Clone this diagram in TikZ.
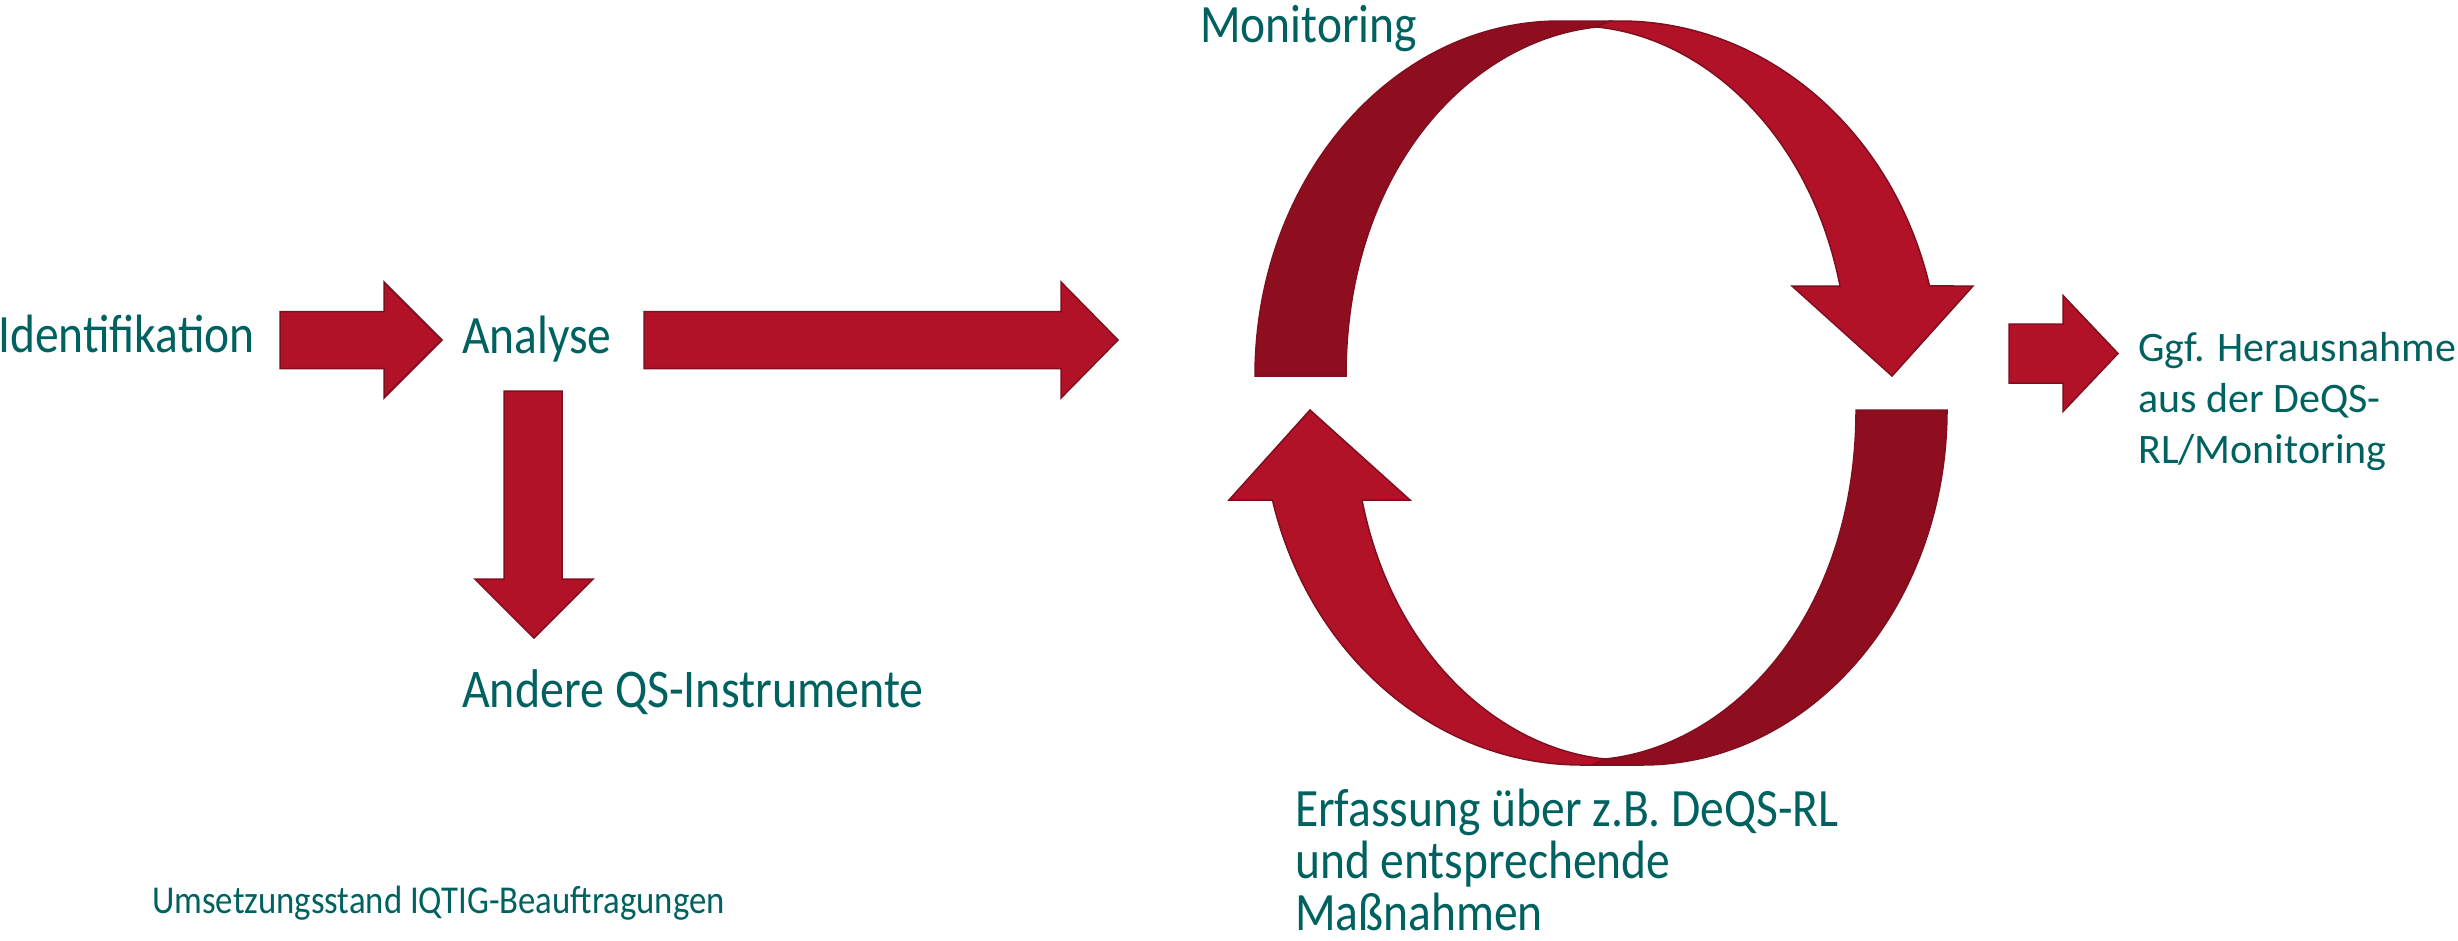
\documentclass[tikz,border=0pt]{standalone}
\usepackage{fontspec}
\setmainfont{Carlito}
\newfontfamily\condfont[FakeStretch=0.88]{Carlito}
\usepackage{tikz}
\definecolor{qsred}{RGB}{177,18,40}
\definecolor{qsdark}{RGB}{142,14,32}
\definecolor{qsedge}{RGB}{128,14,30}
\definecolor{qsteal}{RGB}{0,98,96}
% right block arrow: (shaft left, centre)(head base, tip)(shaft half, head half)
\def\rightarrowblock(#1,#2)(#3,#4)(#5,#6){\draw[blockarrow] (#1,#2-#5) -- (#3,#2-#5) -- (#3,#2-#6) -- (#4,#2) -- (#3,#2+#6) -- (#3,#2+#5) -- (#1,#2+#5) -- cycle;}
% half-turn ribbon with head, dark back part on the left
\def\ribbonarrow{
	\draw[backband] (1255,376) arc[start angle=180, end angle=270, x radius=305, y radius=355] -- (1610,21) -- (1597,27) .. controls (1470,40) and (1346,170) .. (1346,376) -- cycle;
	\draw[blockarrow] (1597,27) -- (1610,21) -- (1620,21) arc[start angle=270, end angle=345.31, x radius=320, y radius=355] -- (1973,286) -- (1892,376) -- (1792,286) -- (1840,286) .. controls (1810,133) and (1704,38) .. (1597,27) -- cycle;
}
\tikzset{
  blockarrow/.style={fill=qsred, draw=qsedge, line width=1.5pt, line join=miter},
  backband/.style={fill=qsdark, draw=qsedge, line width=1.5pt},
  bigtext/.style={text=qsteal, inner sep=0pt, anchor=base west, font=\condfont\fontsize{54}{52}\selectfont, align=left},
  widetext/.style={text=qsteal, inner sep=0pt, anchor=base west, font=\fontsize{42}{51}\selectfont, align=left}
}

\begin{document}
\begin{tikzpicture}[x=1pt, y=-1pt]
		%%%%% START %%%%%
		\useasboundingbox (0,0) rectangle (2458,940);
		
		\node[bigtext] (ident) at (-2, 352) {Identifikation};
		\node[bigtext] (analyse) at (462, 353) {Analyse};
		\node[bigtext] (monitor) at (1200, 42) {Monitoring};
		\node[bigtext, font=\condfont\fontsize{54.5}{52}\selectfont] (andere) at (462, 707) {Andere QS-Instrumente};
		% base of a multi-line node is its last line
		\node[bigtext] (erfass) at (1295, 930) {Erfassung über z.B. DeQS-RL\\und entsprechende\\Maßnahmen};
		\node[widetext] (heraus) at (2138, 463) {Ggf. Herausnahme\\aus der DeQS-\\RL/Monitoring};
		\node[bigtext, font=\condfont\fontsize{39.5}{40}\selectfont] (stand) at (152, 913) {Umsetzungsstand IQTIG-Beauftragungen};
		
		\rightarrowblock(280,340)(384,442)(28.5,58)
		\rightarrowblock(644,340)(1061,1118)(28.5,58)
		\rightarrowblock(2009,353.5)(2063,2118)(29.5,58)
		\draw[blockarrow] (504,391) -- (562,391) -- (562,579) -- (593,579) -- (534,638) -- (475,579) -- (504,579) -- cycle;
		
		% upper ribbon
		\ribbonarrow
		
		% lower ribbon, turned round
		\begin{scope}[shift={(3202,786)}, rotate=180]
			\ribbonarrow
		\end{scope}
		
		%%%%% END %%%%%
	\end{tikzpicture}
\end{document}
